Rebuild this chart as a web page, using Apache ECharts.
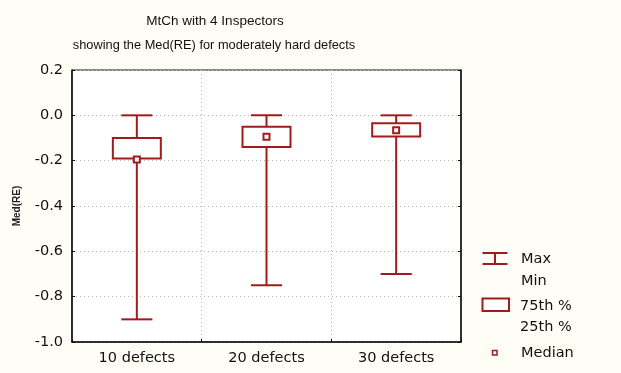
<!DOCTYPE html>
<html><head><meta charset="utf-8">
<script src="https://cdn.jsdelivr.net/npm/echarts@6/dist/echarts.min.js"></script>
<style>html,body{margin:0;padding:0;background:#fefef6;}#c{width:621px;height:373px;}</style>
</head><body><div id="c"></div>
<script>
var categories = ['10 defects', '20 defects', '30 defects'];
var maxVals = [0.0, 0.0, 0.0];
var minVals = [-0.9, -0.75, -0.70];
var q75Vals = [-0.10, -0.05, -0.035];
var q25Vals = [-0.19, -0.14, -0.093];
var medianVals = [-0.195, -0.095, -0.066];
var yTicks = [-1.0, -0.8, -0.6, -0.4, -0.2, 0.0, 0.2];

var RED = '#a01c1c';
var data = categories.map(function (c, i) {
  return [i, maxVals[i], minVals[i], q75Vals[i], q25Vals[i], medianVals[i]];
});

function renderItem(params, api) {
  var i = api.value(0);
  var band = api.size([1, 0])[0];
  var pMax = api.coord([i, api.value(1)]);
  var pMin = api.coord([i, api.value(2)]);
  var pQ75 = api.coord([i, api.value(3)]);
  var pQ25 = api.coord([i, api.value(4)]);
  var pMed = api.coord([i, api.value(5)]);
  var cx = pMax[0];
  var boxW = band * 0.37;
  var capW = band * 0.24;
  var ls = { stroke: RED, lineWidth: 2, fill: null };
  return {
    type: 'group',
    children: [
      { type: 'line', shape: { x1: cx, y1: pMax[1], x2: cx, y2: pQ75[1] }, style: ls },
      { type: 'line', shape: { x1: cx, y1: pQ25[1], x2: cx, y2: pMin[1] }, style: ls },
      { type: 'line', shape: { x1: cx - capW / 2, y1: pMax[1], x2: cx + capW / 2, y2: pMax[1] }, style: ls },
      { type: 'line', shape: { x1: cx - capW / 2, y1: pMin[1], x2: cx + capW / 2, y2: pMin[1] }, style: ls },
      { type: 'rect', shape: { x: cx - boxW / 2, y: pQ75[1], width: boxW, height: pQ25[1] - pQ75[1] }, style: { stroke: RED, lineWidth: 2, fill: '#ffffff' } },
      { type: 'rect', shape: { x: cx - 3, y: pMed[1] - 3, width: 6, height: 6 }, style: { stroke: RED, lineWidth: 2, fill: '#ffffff' } }
    ]
  };
}

var chart = echarts.init(document.getElementById('c'), null, { renderer: 'canvas' });
var fontTick = 'DejaVu Sans';
var legendX = 482.5;
var legFont = '14.5px DejaVu Sans';
chart.setOption({
  animation: false,
  backgroundColor: '#fefef6',
  title: [
    { text: 'MtCh with 4 Inspectors', left: 210, top: 9, textAlign: 'center',
      textStyle: { fontFamily: 'Liberation Sans', fontSize: 13.5, fontWeight: 'normal', color: '#111' } },
    { text: 'showing the Med(RE) for moderately hard defects', left: 209, top: 34, textAlign: 'center',
      textStyle: { fontFamily: 'Liberation Sans', fontSize: 12.8, fontWeight: 'normal', color: '#111' } }
  ],
  grid: { left: 72, right: 160, top: 70, bottom: 31, show: true, backgroundColor: '#ffffff', borderColor: '#111', borderWidth: 1 },
  xAxis: {
    type: 'category', data: categories, boundaryGap: true,
    axisLine: { onZero: false, lineStyle: { color: '#111', width: 1.5 } },
    axisTick: { show: true, inside: true, length: 3, lineStyle: { color: '#111' } },
    axisLabel: { fontFamily: fontTick, fontSize: 14.5, color: '#111', margin: 9 },
    splitLine: { show: true, lineStyle: { color: '#bbb', type: [1, 3] } }
  },
  yAxis: [{
    type: 'value', min: -1.0, max: 0.2, interval: 0.2,
    name: 'Med(RE)', nameLocation: 'middle', nameGap: 50, nameRotate: 90,
    nameTextStyle: { fontFamily: 'Liberation Sans', fontSize: 10, fontWeight: 'bold', color: '#222' },
    axisLine: { show: true, onZero: false, lineStyle: { color: '#111', width: 1.5 } },
    axisTick: { show: true, inside: true, length: 3, lineStyle: { color: '#111' } },
    axisLabel: { fontFamily: fontTick, fontSize: 14.5, color: '#111', margin: 9,
      formatter: function (v) { return v.toFixed(1); } },
    splitLine: { show: true, lineStyle: { color: '#bbb', type: [1, 3] } }
  }, {
    type: 'value', position: 'right', min: -1.0, max: 0.2, interval: 0.2,
    axisLine: { show: true, onZero: false, lineStyle: { color: '#111', width: 1.5 } },
    axisTick: { show: true, inside: true, length: 3, lineStyle: { color: '#111' } },
    axisLabel: { show: false }, splitLine: { show: false }
  }],
  series: [{
    type: 'custom', renderItem: renderItem, data: data,
    encode: { x: 0, y: [1, 2, 3, 4, 5] }
  }],
  graphic: [
    { type: 'line', shape: { x1: legendX, y1: 253, x2: legendX + 25, y2: 253 }, style: { stroke: RED, lineWidth: 2 } },
    { type: 'line', shape: { x1: legendX, y1: 264, x2: legendX + 25, y2: 264 }, style: { stroke: RED, lineWidth: 2 } },
    { type: 'line', shape: { x1: legendX + 12.5, y1: 253, x2: legendX + 12.5, y2: 264 }, style: { stroke: RED, lineWidth: 2 } },
    { type: 'text', x: 521, y: 259, style: { text: 'Max', font: legFont, fill: '#111', verticalAlign: 'middle' } },
    { type: 'text', x: 521, y: 281, style: { text: 'Min', font: legFont, fill: '#111', verticalAlign: 'middle' } },
    { type: 'rect', shape: { x: legendX, y: 298.5, width: 26.5, height: 12.5 }, style: { stroke: RED, lineWidth: 2, fill: '#ffffff' } },
    { type: 'text', x: 520, y: 306, style: { text: '75th %', font: legFont, fill: '#111', verticalAlign: 'middle' } },
    { type: 'text', x: 520, y: 327, style: { text: '25th %', font: legFont, fill: '#111', verticalAlign: 'middle' } },
    { type: 'rect', shape: { x: 492.5, y: 350.5, width: 4.5, height: 4.5 }, style: { stroke: RED, lineWidth: 1.5, fill: '#ffffff' } },
    { type: 'text', x: 521, y: 353, style: { text: 'Median', font: legFont, fill: '#111', verticalAlign: 'middle' } }
  ]
});
</script>
</body></html>
